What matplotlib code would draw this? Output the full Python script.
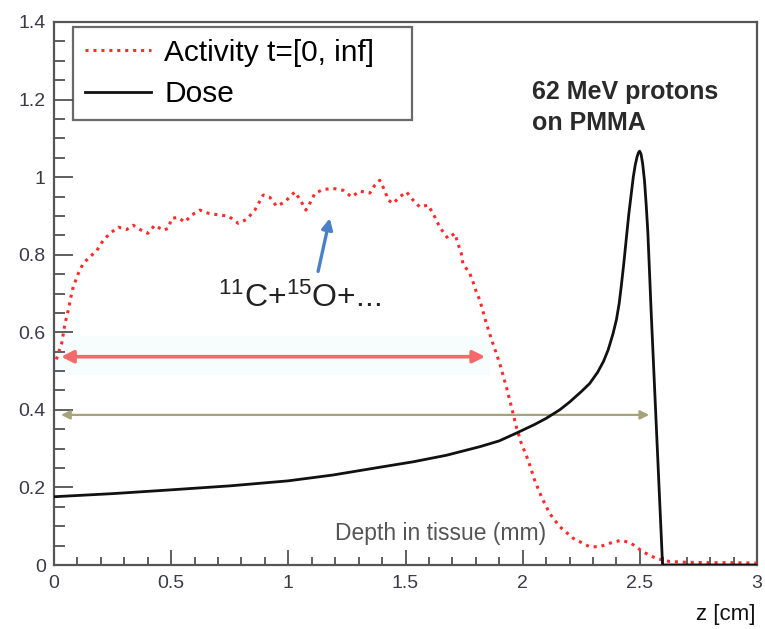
import matplotlib
matplotlib.use("Agg")
import matplotlib.pyplot as plt
from matplotlib.ticker import MultipleLocator, FixedLocator, FixedFormatter

plt.rcParams['font.family'] = ['Liberation Sans', 'DejaVu Sans']
plt.rcParams['mathtext.fontset'] = 'custom'
plt.rcParams['mathtext.rm'] = 'Liberation Sans'
plt.rcParams['mathtext.it'] = 'Liberation Sans:italic'
plt.rcParams['mathtext.bf'] = 'Liberation Sans:bold'

# ---- data ----
activity_x = [0.01, 0.033, 0.047, 0.061, 0.071, 0.082, 0.104, 0.125, 0.154, 0.182, 0.21, 0.239,
              0.274, 0.31, 0.338, 0.367, 0.40, 0.43, 0.466, 0.488, 0.502, 0.53, 0.558, 0.587,
              0.623, 0.658, 0.708, 0.743, 0.786, 0.822, 0.857, 0.893, 0.921, 0.95, 0.985, 1.028,
              1.056, 1.075, 1.095, 1.113, 1.148, 1.191, 1.234, 1.27, 1.305, 1.348, 1.369, 1.39,
              1.411, 1.426, 1.447, 1.475, 1.504, 1.532, 1.561, 1.596, 1.618, 1.639, 1.66, 1.681,
              1.71, 1.724, 1.738, 1.745, 1.774, 1.788, 1.802, 1.817, 1.845, 1.873, 1.902, 1.93,
              1.952, 1.973, 1.994, 2.023, 2.051, 2.08, 2.115, 2.158, 2.215, 2.286, 2.328, 2.371,
              2.421, 2.463, 2.513, 2.57, 2.627, 2.7, 2.8, 2.9, 3.0]
activity_y = [0.53, 0.572, 0.623, 0.657, 0.688, 0.717, 0.752, 0.778, 0.795, 0.81, 0.837, 0.855,
              0.871, 0.865, 0.876, 0.865, 0.855, 0.876, 0.863, 0.868, 0.894, 0.896, 0.884, 0.902,
              0.915, 0.907, 0.902, 0.9, 0.881, 0.891, 0.915, 0.954, 0.948, 0.925, 0.936, 0.962,
              0.936, 0.915, 0.936, 0.958, 0.968, 0.971, 0.966, 0.949, 0.964, 0.959, 0.979, 0.992,
              0.966, 0.941, 0.932, 0.949, 0.962, 0.941, 0.923, 0.928, 0.906, 0.88, 0.859, 0.842,
              0.855, 0.829, 0.803, 0.777, 0.752, 0.73, 0.704, 0.683, 0.623, 0.571, 0.52, 0.46,
              0.408, 0.356, 0.314, 0.271, 0.219, 0.176, 0.133, 0.099, 0.069, 0.047, 0.047, 0.056,
              0.064, 0.056, 0.034, 0.017, 0.009, 0.007, 0.006, 0.006, 0.005]

dose_x = [0.0, 0.25, 0.48, 0.75, 1.0, 1.19, 1.39, 1.532, 1.675, 1.817, 1.9, 1.973, 2.05, 2.1,
          2.158, 2.2, 2.25, 2.286, 2.32, 2.345, 2.365, 2.385, 2.4, 2.412, 2.421, 2.432, 2.442,
          2.453, 2.463, 2.472, 2.48, 2.488, 2.494, 2.499, 2.505, 2.512, 2.52, 2.527, 2.534,
          2.541, 2.548, 2.597, 3.0]
dose_y = [0.176, 0.184, 0.193, 0.204, 0.217, 0.232, 0.252, 0.266, 0.283, 0.305, 0.32, 0.34,
          0.362, 0.378, 0.4, 0.42, 0.447, 0.468, 0.497, 0.525, 0.555, 0.595, 0.632, 0.675,
          0.72, 0.78, 0.84, 0.905, 0.955, 1.0, 1.03, 1.052, 1.063, 1.067, 1.06, 1.035, 0.99,
          0.93, 0.86, 0.76, 0.657, 0.0, 0.0]

legend_labels = ['Activity t=[0, inf]', 'Dose']
beam_note = '62 MeV protons\non PMMA'
isotope_note = r'$^{11}$C+$^{15}$O+...'
depth_note = 'Depth in tissue (mm)'
x_label = 'z [cm]'

activity_range = (0.03, 1.84, 0.537)   # x start, x end, y level
dose_range = (0.03, 2.54, 0.387)

xticks = [0, 0.5, 1, 1.5, 2, 2.5, 3]
xticklabels = ['0', '0.5', '1', '1.5', '2', '2.5', '3']
yticks = [0, 0.2, 0.4, 0.6, 0.8, 1.0, 1.2, 1.4]
yticklabels = ['0', '0.2', '0.4', '0.6', '0.8', '1', '1.2', '1.4']

# ---- figure ----
fig = plt.figure(figsize=(7.65, 6.29), dpi=100)
ax = fig.add_axes([54 / 765, 64 / 629, 703 / 765, 543 / 629])
ax.set_xlim(0, 3)
ax.set_ylim(0, 1.4)

# faint band behind the red arrow
ax.axhspan(0.49, 0.59, xmin=0, xmax=0.62, color='#f7fcfd', zorder=0, lw=0)

ax.plot(activity_x, activity_y, color='#ff2a2a', lw=2.2, linestyle=(0, (1, 1.6)),
        label=legend_labels[0], zorder=3)
ax.plot(dose_x, dose_y, color='#111111', lw=2.0, label=legend_labels[1], zorder=4)

# range arrows
ax.annotate('', xy=(activity_range[1], activity_range[2]), xytext=(activity_range[0], activity_range[2]),
            arrowprops=dict(arrowstyle='<|-|>', color='#f26a6a', lw=2.6,
                            mutation_scale=18, shrinkA=0, shrinkB=0), zorder=2)
ax.annotate('', xy=(dose_range[1], dose_range[2]), xytext=(dose_range[0], dose_range[2]),
            arrowprops=dict(arrowstyle='<|-|>', color='#a6a27a', lw=1.6,
                            mutation_scale=13, shrinkA=0, shrinkB=0), zorder=2)

# blue arrow
ax.annotate('', xy=(1.177, 0.894), xytext=(1.127, 0.757),
            arrowprops=dict(arrowstyle='-|>', color='#4a80c8', lw=2.4,
                            mutation_scale=16, shrinkA=0, shrinkB=0), zorder=5)

ax.text(0.70, 0.688, isotope_note, fontsize=23, color='#222222', ha='left', va='center')
ax.text(2.038, 1.18, beam_note, fontsize=18, fontweight='bold', color='#2a2a2a', ha='left',
        va='center', linespacing=1.35)
ax.text(1.20, 0.08, depth_note, fontsize=16.5, color='#555555', ha='left', va='center')

# axes styling
for s in ax.spines.values():
    s.set_color('#555555')
    s.set_linewidth(1.6)
ax.xaxis.set_major_locator(FixedLocator(xticks))
ax.xaxis.set_major_formatter(FixedFormatter(xticklabels))
ax.yaxis.set_major_locator(FixedLocator(yticks))
ax.yaxis.set_major_formatter(FixedFormatter(yticklabels))
ax.xaxis.set_minor_locator(MultipleLocator(0.1))
ax.yaxis.set_minor_locator(MultipleLocator(0.05))
ax.tick_params(axis='both', which='both', direction='in', color='#444444', width=1.2,
               top=False, right=False, labelsize=14, labelcolor='#3a3a48')
ax.tick_params(axis='y', which='major', length=14, pad=6)
ax.tick_params(axis='y', which='minor', length=8)
ax.tick_params(axis='x', which='major', length=11, pad=7)
ax.tick_params(axis='x', which='minor', length=6)

leg = ax.legend(loc='upper left', bbox_to_anchor=(0.027, 0.838, 0.482, 0.153), mode='expand',
                borderaxespad=0, fontsize=21.5, frameon=True, fancybox=False,
                handlelength=2.2, handletextpad=0.45, labelspacing=0.45, borderpad=0.4)
leg.get_frame().set_edgecolor('#444444')
leg.get_frame().set_linewidth(1.6)

fig.text(756 / 765, 1 - 604 / 629, x_label, fontsize=16, color='#111111', ha='right', va='top')

fig.savefig('out.png', dpi=100)
